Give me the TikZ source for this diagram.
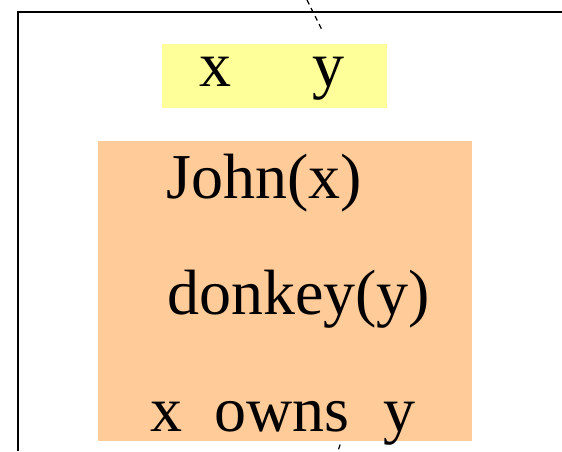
\documentclass[tikz,border=0pt]{standalone}
\usepackage{fontspec}
\setmainfont{Liberation Serif}
\definecolor{refyellow}{HTML}{FFFF99}
\definecolor{reforange}{HTML}{FFCC99}
\tikzset{
  word/.style={inner sep=0pt, anchor=base west, font=\fontsize{64}{70}\selectfont},
  box/.style={fill=#1, draw=none},
  guide/.style={line width=1.2pt, dash pattern=on 5pt off 4pt}
}
\begin{document}
\begin{tikzpicture}[x=1pt, y=-1pt]
            \useasboundingbox (0,0) rectangle (562,451);

            % Marco
            \draw[line width=1.1pt] (18,451) -- (18,12) -- (562,12);

            % Líneas discontinuas
            \coordinate (topa) at (307,0);
            \coordinate (topb) at (323,32);
            \coordinate (bota) at (343,436);
            \coordinate (botb) at (338,451);
            \draw[guide] (topa) -- (topb);
            \draw[guide] (bota) -- (botb);

            % Cajas
            \fill[box=refyellow] (162,44) rectangle (387,108);
            \fill[box=reforange] (98,141) rectangle (472,441);

            % Referentes
            \node[word] (rx) at (199,86) {x};
            \node[word] (ry) at (312,86) {y};

            % Condiciones
            \node[word] (john) at (166,198) {John(x)};
            \node[word] (donkey) at (167,314) {donkey(y)};
            \node[word] (ox) at (150,431) {x};
            \node[word] (owns) at (214,431) {owns};
            \node[word] (oy) at (383,431) {y};

        \end{tikzpicture}
\end{document}
